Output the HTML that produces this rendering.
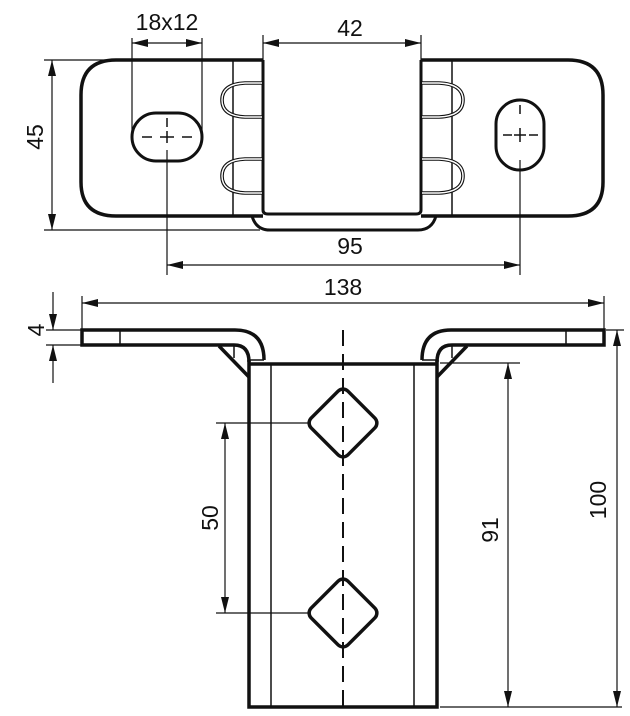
<!DOCTYPE html>
<html><head><meta charset="utf-8"><style>
html,body{margin:0;padding:0;background:#fff;}
svg{display:block;}
text{font-family:"Liberation Sans","DejaVu Sans",sans-serif;font-size:23px;fill:#111;}
</style></head><body>
<svg width="630" height="716" viewBox="0 0 630 716" xmlns="http://www.w3.org/2000/svg">
<defs>
<marker id="a" viewBox="0 0 16 8" refX="16" refY="4" markerWidth="16" markerHeight="8" markerUnits="userSpaceOnUse" orient="auto-start-reverse"><path d="M0,0 L16,4 L0,8 z" fill="#111"/></marker>
</defs>
<g stroke="#111" fill="none">
<path d="M252,216 Q256,230 270,230 L418,230 Q432,230 436,216" stroke-width="3"/>
<path d="M263,60 L263,210 Q263,214 268,214 L416,214 Q421,214 421,210 L421,60" stroke-width="3"/>
<path d="M263,60 L116,60 Q81,60 81,95 L81,182 Q81,216 116,216 L263,216" stroke-width="3.5"/>
<path d="M421,60 L568,60 Q603,60 603,95 L603,182 Q603,216 568,216 L421,216" stroke-width="3.5"/>
<line x1="233" y1="60" x2="233" y2="216" stroke-width="1.5"/>
<line x1="452" y1="60" x2="452" y2="216" stroke-width="1.5"/>
<g stroke-width="3.6"><path d="M263,83 L245,83 Q222,84 222,100 Q222,116 245,117 L263,117"/><path d="M263,159 L245,159 Q222,160 222,176 Q222,192 245,193 L263,193"/><path d="M421,83 L439,83 Q463,84 463,100 Q463,116 439,117 L421,117"/><path d="M421,159 L439,159 Q463,160 463,176 Q463,192 439,193 L421,193"/></g>
<g stroke="#fff" stroke-width="1.4"><path d="M262,83 L245,83 Q222,84 222,100 Q222,116 245,117 L262,117"/><path d="M262,159 L245,159 Q222,160 222,176 Q222,192 245,193 L262,193"/><path d="M422,83 L439,83 Q463,84 463,100 Q463,116 439,117 L422,117"/><path d="M422,159 L439,159 Q463,160 463,176 Q463,192 439,193 L422,193"/></g>
<rect x="132" y="113" width="70" height="48" rx="24" stroke-width="3"/>
<rect x="496" y="100" width="48" height="70" rx="24" stroke-width="3"/>
<g stroke-width="1.5">
<line x1="142" y1="137" x2="152" y2="137"/><line x1="160" y1="137" x2="174" y2="137"/><line x1="182" y1="137" x2="192" y2="137"/>
<line x1="167" y1="118" x2="167" y2="127"/><line x1="167" y1="131" x2="167" y2="143"/>
<line x1="503" y1="135" x2="512" y2="135"/><line x1="514" y1="135" x2="526" y2="135"/><line x1="529" y1="135" x2="538" y2="135"/>
<line x1="520" y1="105" x2="520" y2="114"/><line x1="520" y1="128" x2="520" y2="142"/>
</g>
<g stroke-width="1.2">
<line x1="132" y1="38" x2="132" y2="137"/><line x1="202" y1="38" x2="202" y2="137"/>
<line x1="132" y1="43" x2="202" y2="43" marker-start="url(#a)" marker-end="url(#a)"/>
<line x1="263" y1="35" x2="263" y2="60"/><line x1="421" y1="35" x2="421" y2="60"/>
<line x1="263" y1="43" x2="421" y2="43" marker-start="url(#a)" marker-end="url(#a)"/>
<line x1="44" y1="60" x2="116" y2="60"/><line x1="44" y1="230" x2="260" y2="230"/>
<line x1="52" y1="60" x2="52" y2="230" marker-start="url(#a)" marker-end="url(#a)"/>
<line x1="167" y1="150" x2="167" y2="275"/><line x1="520" y1="160" x2="520" y2="275"/>
<line x1="167" y1="265" x2="520" y2="265" marker-start="url(#a)" marker-end="url(#a)"/>
</g>
<g stroke-width="3.5">
<path d="M235,330 L82,330 L82,345 L234,345"/>
<path d="M235,330 Q264,330 264,360"/>
<path d="M234,345 Q249,345 249,362"/>
<path d="M451,330 L604,330 L604,345 L452,345"/>
<path d="M451,330 Q422,330 422,360"/>
<path d="M452,345 Q437,345 437,362"/>
<path d="M249,360 L249,707 L437,707 L437,360"/>
<line x1="249" y1="364" x2="437" y2="364"/>
<path d="M219,346 L249,377"/><path d="M467,346 L437,377"/>
<rect x="-26" y="-26" width="52" height="52" rx="7" transform="translate(343,423) rotate(45)"/>
<rect x="-26" y="-26" width="52" height="52" rx="7" transform="translate(343,613) rotate(45)"/>
</g>
<g stroke-width="1.5">
<line x1="120" y1="330" x2="120" y2="345"/><line x1="566" y1="330" x2="566" y2="345"/>
<line x1="234" y1="345" x2="234" y2="358"/><line x1="452" y1="345" x2="452" y2="358"/>
<line x1="249" y1="360" x2="264" y2="360"/><line x1="422" y1="360" x2="437" y2="360"/>
<line x1="271" y1="364" x2="271" y2="707"/><line x1="414" y1="364" x2="414" y2="707"/>
<line x1="343" y1="330" x2="343" y2="707" stroke-width="2" stroke-dasharray="16,8"/>
</g>
<g stroke-width="1.2">
<line x1="82" y1="296" x2="82" y2="330"/><line x1="604" y1="296" x2="604" y2="330"/>
<line x1="82" y1="303" x2="604" y2="303" marker-start="url(#a)" marker-end="url(#a)"/>
<line x1="46" y1="330" x2="82" y2="330"/><line x1="46" y1="345" x2="82" y2="345"/>
<line x1="53" y1="292" x2="53" y2="330" marker-end="url(#a)"/>
<line x1="53" y1="383" x2="53" y2="345" marker-end="url(#a)"/>
<line x1="216" y1="423" x2="310" y2="423"/><line x1="216" y1="613" x2="310" y2="613"/>
<line x1="225" y1="423" x2="225" y2="613" marker-start="url(#a)" marker-end="url(#a)"/>
<line x1="440" y1="363" x2="520" y2="363"/><line x1="440" y1="707" x2="622" y2="707"/>
<line x1="508" y1="363" x2="508" y2="707" marker-start="url(#a)" marker-end="url(#a)"/>
<line x1="606" y1="330" x2="624" y2="330"/>
<line x1="617" y1="330" x2="617" y2="707" marker-start="url(#a)" marker-end="url(#a)"/>
</g>
</g>
<text x="167" y="30" text-anchor="middle">18x12</text>
<text x="350" y="36" text-anchor="middle">42</text>
<text x="350" y="254" text-anchor="middle">95</text>
<text x="343" y="295" text-anchor="middle">138</text>
<text transform="translate(43,137) rotate(-90)" text-anchor="middle">45</text>
<text transform="translate(44,330) rotate(-90)" text-anchor="middle">4</text>
<text transform="translate(218,518) rotate(-90)" text-anchor="middle">50</text>
<text transform="translate(498,530) rotate(-90)" text-anchor="middle">91</text>
<text transform="translate(606,500) rotate(-90)" text-anchor="middle">100</text>
</svg>
</body></html>
